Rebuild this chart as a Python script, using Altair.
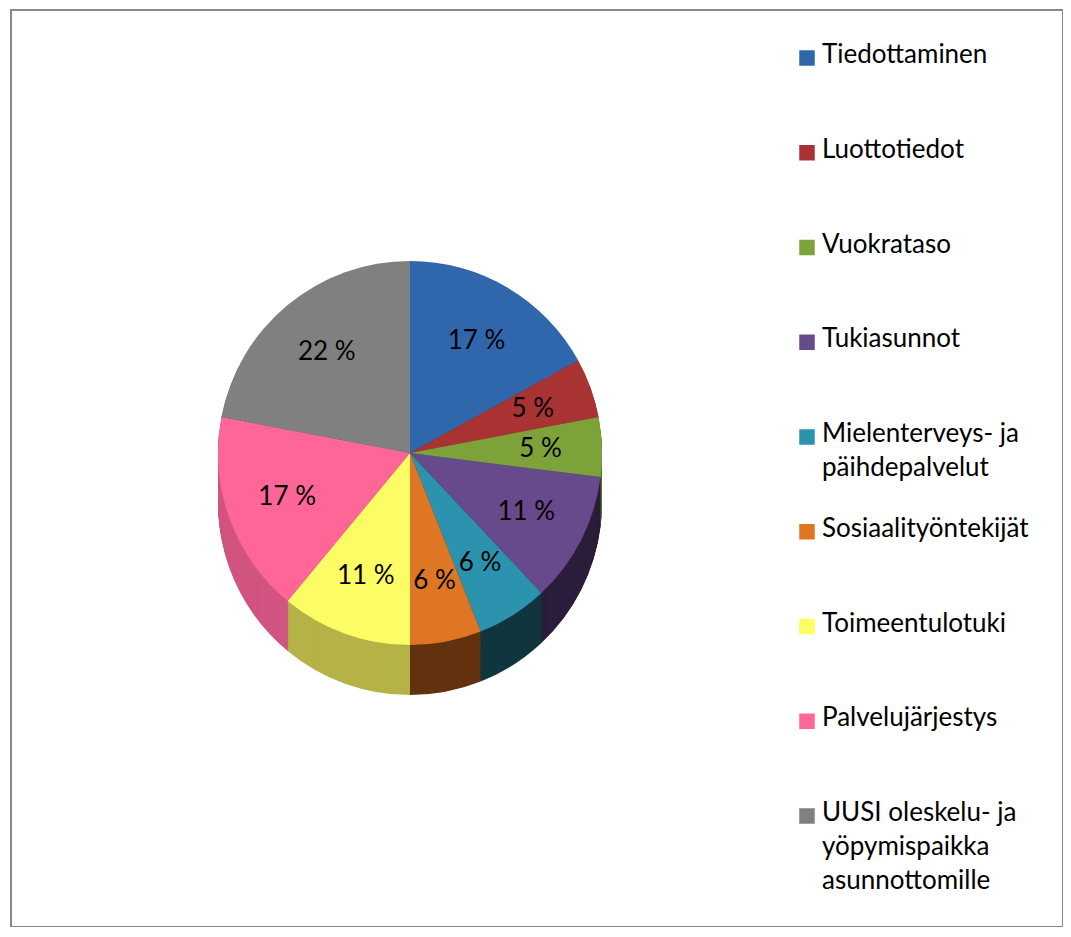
import altair as alt
import pandas as pd

categories = [
    "Tiedottaminen",
    "Luottotiedot",
    "Vuokrataso",
    "Tukiasunnot",
    "Mielenterveys- ja päihdepalvelut",
    "Sosiaalityöntekijät",
    "Toimeentulotuki",
    "Palvelujärjestys",
    "UUSI oleskelu- ja yöpymispaikka asunnottomille",
]
legend_labels = [
    "Tiedottaminen",
    "Luottotiedot",
    "Vuokrataso",
    "Tukiasunnot",
    "Mielenterveys- ja\npäihdepalvelut",
    "Sosiaalityöntekijät",
    "Toimeentulotuki",
    "Palvelujärjestys",
    "UUSI oleskelu- ja\nyöpymispaikka\nasunnottomille",
]
values = [17, 5, 5, 11, 6, 6, 11, 17, 22]
pct_labels = ["17 %", "5 %", "5 %", "11 %", "6 %", "6 %", "11 %", "17 %", "22 %"]

top_colors = ["#3066AB", "#A93232", "#7DA23A", "#674A8C", "#2B93AD",
              "#DE7623", "#FCFC64", "#FD6697", "#808080"]
side_colors = ["#234A7C", "#7A2424", "#5A7A2A", "#2B1F3C", "#12363F",
               "#63320F", "#B5B346", "#D25580", "#5E5E5E"]

df = pd.DataFrame({
    "cat": categories,
    "legend": legend_labels,
    "value": values,
    "pct": pct_labels,
    "idx": list(range(len(categories))),
})

FONT = "Lato"
CX, CY, R = 399, 443, 192
DEPTH = 50

base = alt.Chart(df)
theta = alt.Theta("value:Q", stack=True)
order = alt.Order("idx:Q")

side_layers = []
for k in range(DEPTH, 0, -1):
    side_layers.append(
        base.mark_arc(radius=R).encode(
            theta=theta,
            order=order,
            color=alt.Color("cat:N", scale=alt.Scale(domain=categories, range=side_colors),
                            legend=None),
            x=alt.value(CX),
            y=alt.value(CY + k),
        )
    )

top = base.mark_arc(radius=R).encode(
    theta=theta,
    order=order,
    color=alt.Color("cat:N", scale=alt.Scale(domain=categories, range=top_colors),
                    legend=None),
    x=alt.value(CX),
    y=alt.value(CY),
)

labels = base.mark_text(radius=R * 0.68, font=FONT, fontSize=26, color="#000000").encode(
    theta=theta,
    order=order,
    text="pct:N",
    x=alt.value(CX),
    y=alt.value(CY),
)

ypos = alt.Y("cat:N", sort=categories, axis=None,
             scale=alt.Scale(type="point", domain=categories, range=[48, 806], padding=0))

legend_sq = base.mark_square(size=240, opacity=1).encode(
    y=ypos,
    x=alt.value(796),
    color=alt.Color("cat:N", scale=alt.Scale(domain=categories, range=top_colors),
                    legend=None),
)

legend_txt = base.mark_text(align="left", baseline="top", dy=-16, font=FONT, fontSize=26,
                            lineBreak="\n", lineHeight=34, color="#000000").encode(
    y=ypos,
    x=alt.value(811),
    text="legend:N",
)

chart = alt.layer(*side_layers, top, labels, legend_sq, legend_txt).resolve_scale(
    color="independent"
).properties(
    width=1052,
    height=917,
    padding={"left": 3, "top": 2, "right": 0, "bottom": 0},
).configure_view(
    stroke="#888888",
    strokeWidth=2,
)

chart.save("out.html", embed_options={"renderer": "svg", "actions": False})
